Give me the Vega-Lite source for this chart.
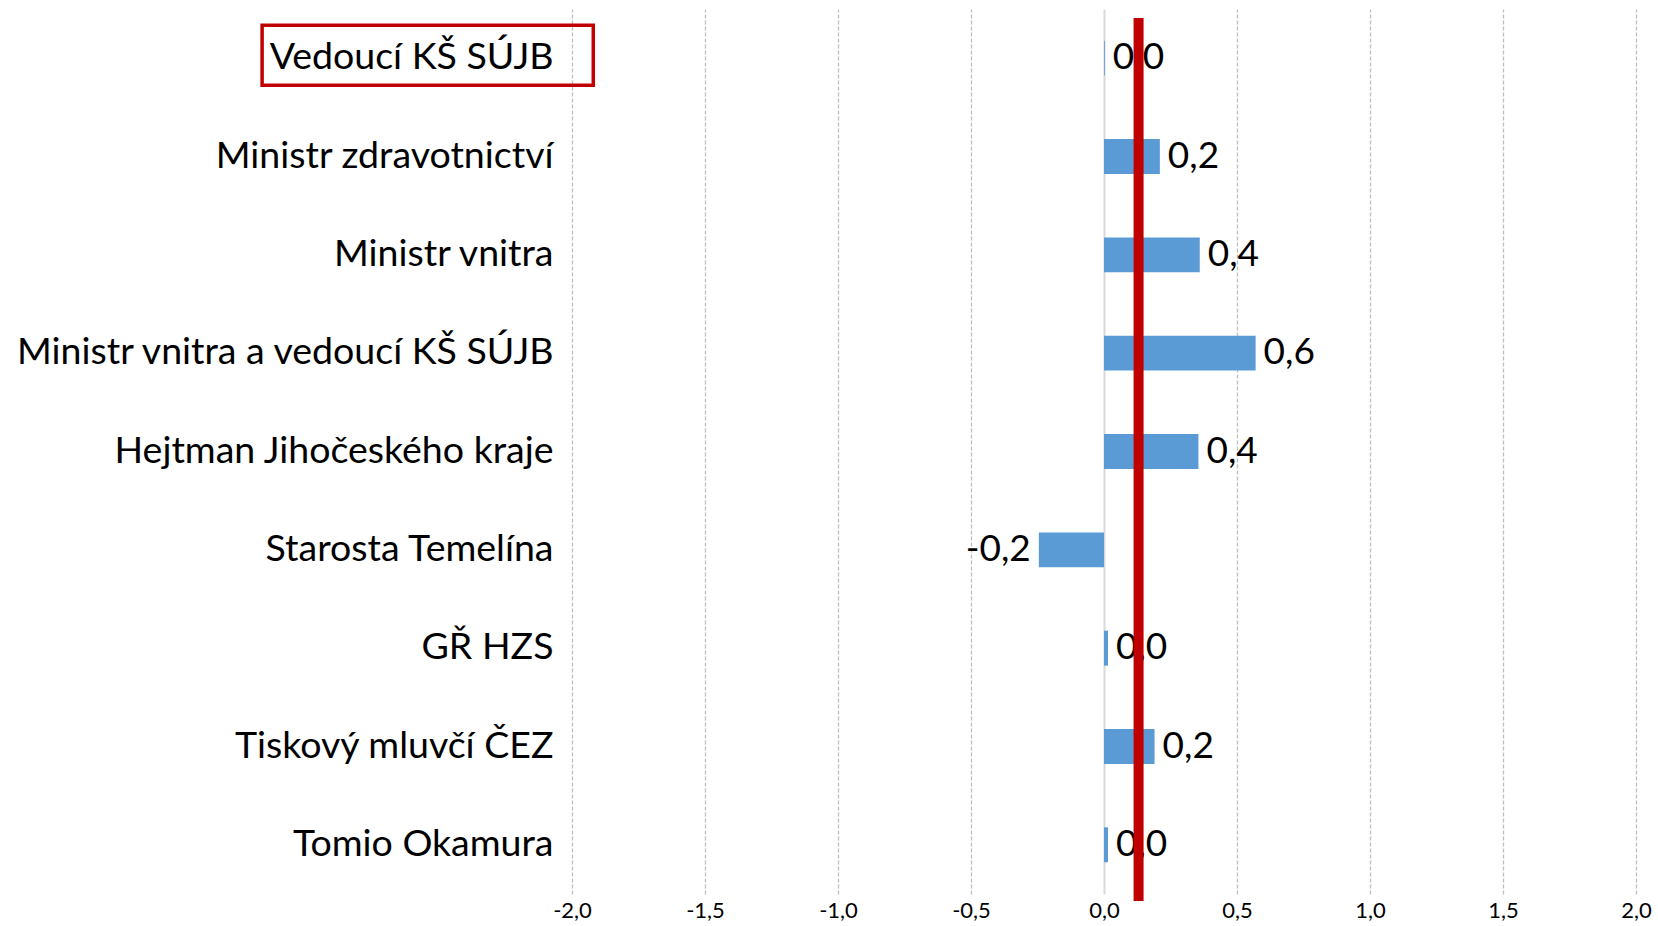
{
  "$schema": "https://vega.github.io/schema/vega-lite/v6.json",
  "autosize": "none",
  "width": 1064,
  "height": 885,
  "padding": {"left": 572, "top": 9, "right": 22, "bottom": 32},
  "background": "white",
  "config": {
    "view": {"stroke": null},
    "font": "Lato",
    "locale": {
      "number": {"decimal": ",", "thousands": " ", "grouping": [3], "currency": ["", " Kč"], "minus": "-"}
    }
  },
  "datasets": {
    "main": [
      {"name": "Vedoucí KŠ SÚJB", "v": 0.003},
      {"name": "Ministr zdravotnictví", "v": 0.21},
      {"name": "Ministr vnitra", "v": 0.36},
      {"name": "Ministr vnitra a vedoucí KŠ SÚJB", "v": 0.57},
      {"name": "Hejtman Jihočeského kraje", "v": 0.355},
      {"name": "Starosta Temelína", "v": -0.245},
      {"name": "GŘ HZS", "v": 0.015},
      {"name": "Tiskový mluvčí ČEZ", "v": 0.19},
      {"name": "Tomio Okamura", "v": 0.015}
    ],
    "ref": [{"r": 0.13}],
    "box": [{"name": "Vedoucí KŠ SÚJB", "b1": -3.165, "b2": -1.92}]
  },
  "encoding": {
    "y": {
      "field": "name",
      "type": "nominal",
      "sort": null,
      "scale": {
        "domain": ["Vedoucí KŠ SÚJB", "Ministr zdravotnictví", "Ministr vnitra", "Ministr vnitra a vedoucí KŠ SÚJB", "Hejtman Jihočeského kraje", "Starosta Temelína", "GŘ HZS", "Tiskový mluvčí ČEZ", "Tomio Okamura"],
        "paddingInner": 0.645,
        "paddingOuter": 0.3225
      },
      "axis": {
        "title": null,
        "domain": false,
        "ticks": false,
        "grid": false,
        "labelFont": "Lato",
        "labelFontSize": 37.5,
        "labelColor": "#000000",
        "labelPadding": 19,
        "labelLimit": 0
      }
    }
  },
  "layer": [
    {
      "data": {"name": "main"},
      "mark": {"type": "bar", "color": "#5B9BD5"},
      "encoding": {
        "x": {
          "field": "v",
          "type": "quantitative",
          "scale": {"domain": [-2, 2], "nice": false, "zero": false},
          "axis": {
            "title": null,
            "values": [-2, -1.5, -1, -0.5, 0, 0.5, 1, 1.5, 2],
            "format": ".1f",
            "domain": false,
            "ticks": false,
            "grid": true,
            "gridColor": {"condition": {"test": "datum.value === 0", "value": "#D9D9D9"}, "value": "#BFBFBF"},
            "gridDash": {"condition": {"test": "datum.value === 0", "value": []}, "value": [4, 2]},
            "gridWidth": {"condition": {"test": "datum.value === 0", "value": 2}, "value": 1.3},
            "labelFont": "Lato",
            "labelFontSize": 22,
            "labelColor": "#000000",
            "labelPadding": 6,
            "labelFlush": false,
            "labelOverlap": false
          }
        }
      }
    },
    {
      "data": {"name": "main"},
      "transform": [{"filter": "datum.v >= 0"}],
      "mark": {"type": "text", "align": "left", "baseline": "middle", "dx": 8, "fontSize": 37, "font": "Lato", "color": "#000000"},
      "encoding": {
        "x": {"field": "v", "type": "quantitative"},
        "text": {"field": "v", "type": "quantitative", "format": ".1f"}
      }
    },
    {
      "data": {"name": "main"},
      "transform": [{"filter": "datum.v < 0"}],
      "mark": {"type": "text", "align": "right", "baseline": "middle", "dx": -8, "fontSize": 37, "font": "Lato", "color": "#000000"},
      "encoding": {
        "x": {"field": "v", "type": "quantitative"},
        "text": {"field": "v", "type": "quantitative", "format": ".1f"}
      }
    },
    {
      "data": {"name": "ref"},
      "mark": {"type": "rule", "color": "#C00000", "strokeWidth": 10},
      "encoding": {
        "x": {"field": "r", "type": "quantitative"},
        "y": {"value": 9},
        "y2": {"value": 892}
      }
    },
    {
      "data": {"name": "box"},
      "mark": {"type": "bar", "fill": null, "fillOpacity": 0, "stroke": "#C00000", "strokeWidth": 3.5, "height": 60, "yOffset": -3, "clip": false},
      "encoding": {
        "x": {"field": "b1", "type": "quantitative"},
        "x2": {"field": "b2"}
      }
    }
  ]
}
